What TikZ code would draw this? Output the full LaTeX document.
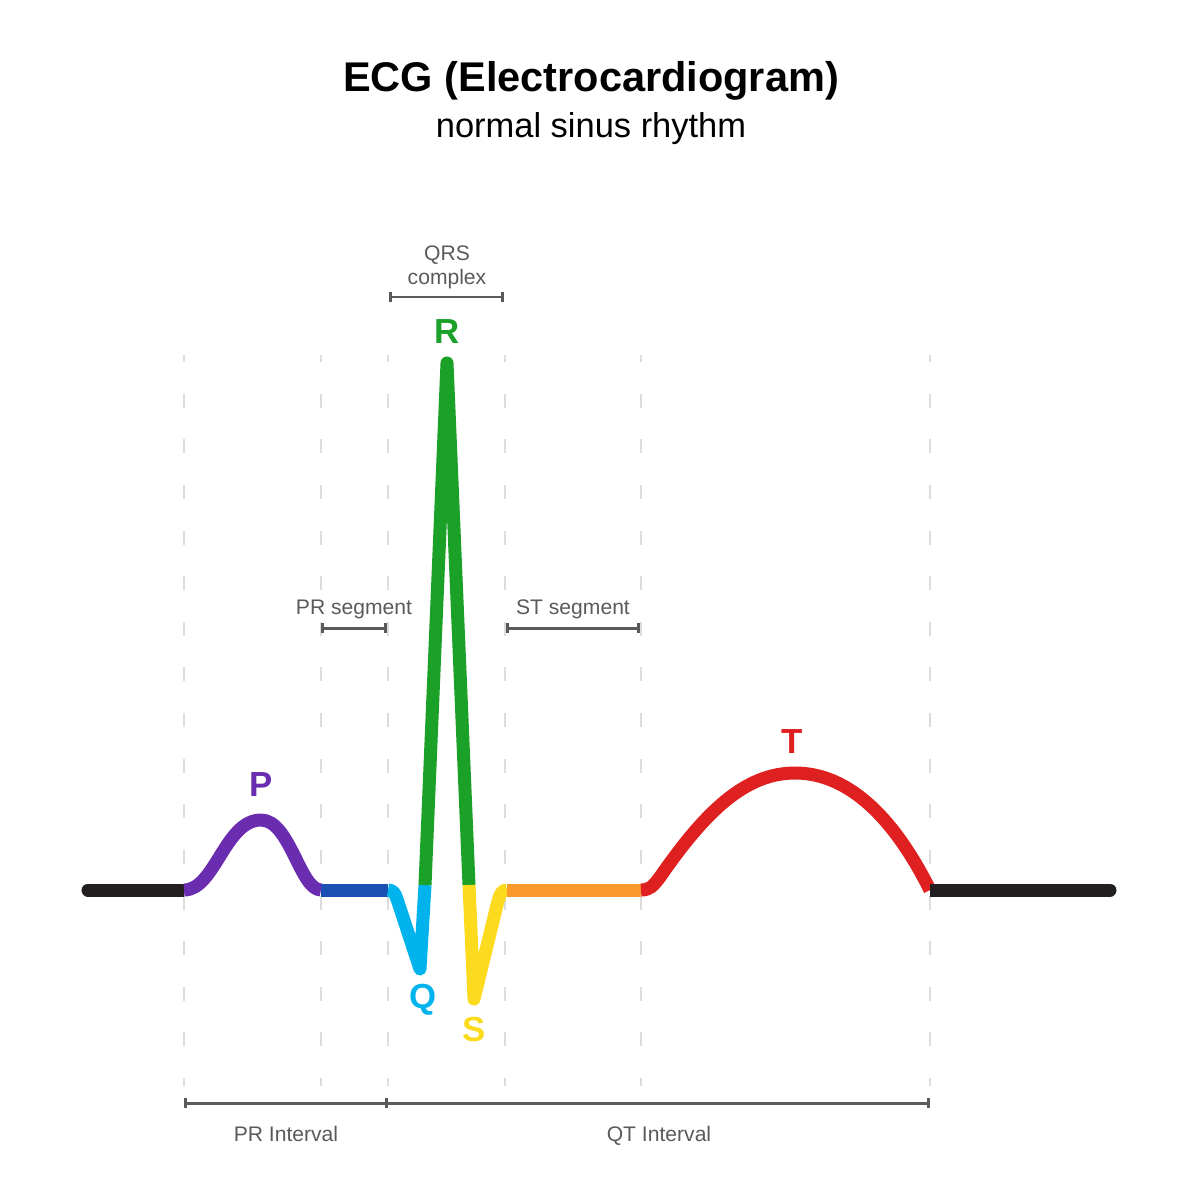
\documentclass[tikz,border=0pt]{standalone}
\usepackage{fontspec}
\setmainfont{Liberation Sans}
\usetikzlibrary{arrows.meta}
\definecolor{ecgblack}{HTML}{231F20}
\definecolor{ecgpurple}{HTML}{6A2DAF}
\definecolor{ecgblue}{HTML}{1C4FB3}
\definecolor{ecgcyan}{HTML}{00B3EC}
\definecolor{ecggreen}{HTML}{1BA028}
\definecolor{ecgyellow}{HTML}{FCDA1E}
\definecolor{ecgorange}{HTML}{FB9A2B}
\definecolor{ecgred}{HTML}{DF2020}
\definecolor{labelgray}{HTML}{5A5A5A}
\definecolor{guidegray}{HTML}{DDDDDD}
\begin{document}
\begin{tikzpicture}[x=0.01cm,y=-0.01cm,
    wave/.style={line width=3.7pt, line join=round},
    guide/.style={draw=guidegray, line width=0.4pt, dash pattern=on 0.14cm off 0.316cm, dash phase=0.07cm},
    bracket/.style={draw=labelgray, line width=0.85pt, {Bar[width=3pt]}-{Bar[width=3pt]}},
    lbl/.style={text=labelgray, font=\fontsize{6}{6.8}\selectfont, inner sep=0pt, anchor=base},
    peak/.style={font=\fontsize{9.9}{10}\selectfont\bfseries, inner sep=0pt}]
    \useasboundingbox (0,0) rectangle (1200,1200);
    \node[lbl, text=black, font=\fontsize{11.8}{14}\selectfont\bfseries] (title) at (591,91) {ECG (Electrocardiogram)};
    \node[lbl, text=black, font=\fontsize{9.8}{12}\selectfont] (subtitle) at (591,137) {normal sinus rhythm};
    \foreach \x in {184,321,388,505,641,930}
        \draw[guide] (\x,355) -- (\x,1086);
    % wave points
    \coordinate (w0) at (88,890);
    \coordinate (w0b) at (100,890);
    \coordinate (p0) at (184,890);
    \coordinate (p1) at (321,890);
    \coordinate (q0) at (388,890);
    \coordinate (qb) at (420,969);
    \coordinate (r0) at (425,885);
    \coordinate (rt) at (447,363);
    \coordinate (s0) at (469,885);
    \coordinate (sb) at (474,999);
    \coordinate (st0) at (507,890);
    \coordinate (t0) at (641,890);
    \coordinate (t1) at (930,890);
    \coordinate (w1b) at (1098,890);
    \coordinate (w1) at (1110,890);
    \draw[wave, draw=ecgblack, line cap=round] (w0) -- (w0b);
    \draw[wave, draw=ecgblack] (w0b) -- (p0);
    \draw[wave, draw=ecgpurple] (p0) .. controls (215,890) and (225,820) .. (261,820) .. controls (290,820) and (300,890) .. (p1);
    \draw[wave, draw=ecgblue] (p1) -- (q0);
    \draw[wave, draw=ecgcyan] (q0) .. controls (393,890) and (395,893) .. (397,899) -- (qb) -- (r0);
    \draw[wave, draw=ecggreen] (r0) -- (rt) -- (s0);
    \draw[wave, draw=ecgyellow] (s0) -- (sb) -- (497,905) .. controls (500,893) and (502,890) .. (st0);
    \draw[wave, draw=ecgorange] (st0) -- (t0);
    \draw[wave, draw=ecgred] (t0) .. controls (650,890) and (653,886) .. (660,877) .. controls (705,812) and (745,773) .. (795,773) .. controls (850,773) and (895,820) .. (t1);
    \draw[wave, draw=ecgblack] (t1) -- (w1b);
    \draw[wave, draw=ecgblack, line cap=round] (w1b) -- (w1);
    \node[peak, text=ecgpurple] (lp) at (261,785) {P};
    \node[peak, text=ecgcyan] (lq) at (423,1000) {Q};
    \node[peak, text=ecggreen] (lr) at (447,332) {R};
    \node[peak, text=ecgyellow] (ls) at (474,1030) {S};
    \node[peak, text=ecgred] (lt) at (792,742) {T};
    % brackets
    \node[lbl, anchor=north, align=center] (qrs) at (447,245) {QRS\\complex};
    \coordinate (qrsa) at (389,297);
    \coordinate (qrsb) at (504,297);
    \draw[bracket] (qrsa) -- (qrsb);
    \node[lbl] (prseg) at (354,614) {PR segment};
    \coordinate (prsa) at (321,628);
    \coordinate (prsb) at (387,628);
    \draw[bracket] (prsa) -- (prsb);
    \node[lbl] (stseg) at (573,614) {ST segment};
    \coordinate (stsa) at (506,628);
    \coordinate (stsb) at (640,628);
    \draw[bracket] (stsa) -- (stsb);
    \coordinate (ia) at (184,1103);
    \coordinate (ib) at (388,1103);
    \coordinate (ic) at (930,1103);
    \draw[bracket] (ia) -- (ib);
    \draw[bracket, -{Bar[width=3pt]}] (ib) -- (ic);
    \node[lbl] (print) at (286,1141) {PR Interval};
    \node[lbl] (qtint) at (659,1141) {QT Interval};
\end{tikzpicture}
\end{document}
